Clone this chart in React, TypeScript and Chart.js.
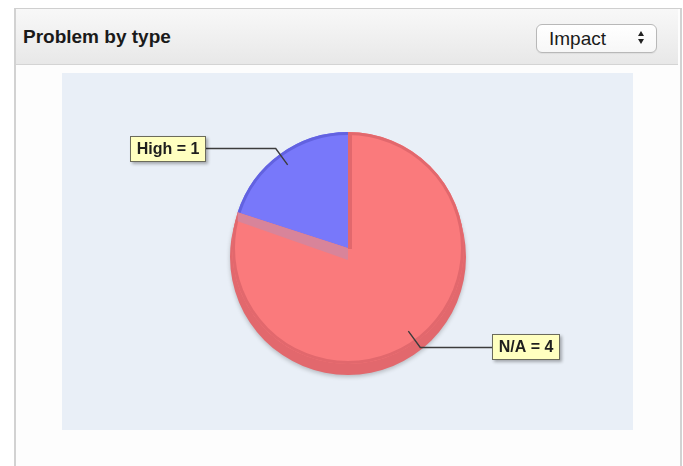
import React, { useEffect, useRef } from 'react';
import { Chart, registerables } from 'chart.js';

Chart.register(...registerables);

const title = 'Problem by type';
const selectLabel = 'Impact';
const labels = ['N/A', 'High'];
const values = [4, 1];
const faceColors = ['#fa7a7c', '#7878fa'];
const rimColors = ['#e2686d', '#6262e0'];
const cutColor = '#d8849a';

const DEPTH = 9;

const pie3dPlugin = {
  id: 'pie3d',
  beforeDatasetsDraw(chart: any) {
    const meta = chart.getDatasetMeta(0);
    const ctx = chart.ctx;
    meta.data.forEach((arc: any, i: number) => {
      const { x, y, startAngle, endAngle, outerRadius } = arc.getProps(
        ['x', 'y', 'startAngle', 'endAngle', 'outerRadius'],
        true
      );
      ctx.save();
      ctx.shadowColor = 'rgba(0,0,0,0.22)';
      ctx.shadowBlur = 4;
      ctx.shadowOffsetY = 2;
      ctx.beginPath();
      ctx.moveTo(x, y + DEPTH);
      ctx.arc(x, y + DEPTH, outerRadius + 2, startAngle, endAngle);
      ctx.closePath();
      ctx.fillStyle = rimColors[i];
      ctx.fill();
      ctx.restore();
    });
  },
  afterDatasetsDraw(chart: any) {
    const meta = chart.getDatasetMeta(0);
    const ctx = chart.ctx;
    const arcs = meta.data.map((arc: any) =>
      arc.getProps(['x', 'y', 'startAngle', 'endAngle', 'outerRadius'], true)
    );
    arcs.forEach((a: any, i: number) => {
      ctx.save();
      ctx.beginPath();
      ctx.arc(a.x, a.y, a.outerRadius - 1.5, a.startAngle, a.endAngle);
      ctx.strokeStyle = rimColors[i];
      ctx.lineWidth = 3;
      ctx.stroke();
      ctx.restore();
    });
    const first = arcs[0];
    ctx.save();
    ctx.fillStyle = rimColors[0];
    ctx.fillRect(first.x, first.y - first.outerRadius + 1, 4, first.outerRadius);
    ctx.restore();
    const last = arcs[arcs.length - 1];
    const px = last.x + last.outerRadius * Math.cos(last.startAngle);
    const py = last.y + last.outerRadius * Math.sin(last.startAngle);
    ctx.save();
    ctx.beginPath();
    ctx.moveTo(last.x, last.y);
    ctx.lineTo(px, py);
    ctx.lineTo(px, py + 9);
    ctx.lineTo(last.x, last.y + 12);
    ctx.closePath();
    ctx.fillStyle = cutColor;
    ctx.fill();
    ctx.restore();
  },
  afterDraw(chart: any) {
    const meta = chart.getDatasetMeta(0);
    const ctx = chart.ctx;
    const data = chart.data.datasets[0].data;
    meta.data.forEach((arc: any, i: number) => {
      const a = arc.getProps(['x', 'y', 'startAngle', 'endAngle', 'outerRadius'], true);
      const mid = (a.startAngle + a.endAngle) / 2;
      const c = Math.cos(mid);
      const s = Math.sin(mid);
      const ax = a.x + a.outerRadius * 0.885 * c;
      const ay = a.y + a.outerRadius * 0.885 * s;
      const ex = a.x + a.outerRadius * 1.06 * c;
      const ey = a.y + a.outerRadius * 1.06 * s;
      const right = c >= 0;
      const hx = right ? ex + 72 : ex - 70;
      const text = `${chart.data.labels[i]} = ${data[i]}`;
      ctx.save();
      ctx.strokeStyle = '#3c3c3c';
      ctx.lineWidth = 1.4;
      ctx.beginPath();
      ctx.moveTo(ax, ay);
      ctx.lineTo(ex, ey);
      ctx.lineTo(hx, ey);
      ctx.stroke();
      ctx.font = 'bold 16px "Liberation Sans", Arial, sans-serif';
      const tw = ctx.measureText(text).width;
      const bw = Math.round(tw + 13);
      const bh = 26;
      const bx = right ? Math.round(hx) : Math.round(hx - bw);
      const by = Math.round(ey - bh / 2);
      ctx.shadowColor = 'rgba(0,0,0,0.3)';
      ctx.shadowBlur = 3;
      ctx.shadowOffsetX = 2;
      ctx.shadowOffsetY = 2;
      ctx.fillStyle = '#ffffc0';
      ctx.fillRect(bx, by, bw, bh);
      ctx.shadowColor = 'transparent';
      ctx.strokeStyle = '#6b6b5c';
      ctx.lineWidth = 1;
      ctx.strokeRect(bx + 0.5, by + 0.5, bw - 1, bh - 1);
      ctx.fillStyle = '#1e1e1e';
      ctx.textBaseline = 'middle';
      ctx.textAlign = 'center';
      ctx.fillText(text, bx + bw / 2, by + bh / 2 + 1);
      ctx.restore();
    });
  },
};

function PieChart() {
  const ref = useRef<HTMLCanvasElement | null>(null);
  useEffect(() => {
    if (!ref.current) return;
    const chart = new Chart(ref.current, {
      type: 'pie',
      data: {
        labels,
        datasets: [
          {
            data: values,
            backgroundColor: faceColors,
            borderWidth: 0,
          },
        ],
      },
      options: {
        animation: false,
        responsive: false,
        radius: 116,
        layout: { padding: { left: 1, right: 0, top: 0, bottom: 7 } },
        plugins: {
          legend: { display: false },
          tooltip: { enabled: false },
        },
      } as any,
      plugins: [pie3dPlugin],
    });
    return () => chart.destroy();
  }, []);
  return (
    <canvas
      ref={ref}
      width={571}
      height={357}
      style={{
        position: 'absolute',
        left: 62,
        top: 73,
        width: 571,
        height: 357,
        background: '#e9eff7',
      }}
    />
  );
}

export default function App() {
  return (
    <div
      style={{
        position: 'absolute',
        left: 0,
        top: 0,
        width: 683,
        height: 466,
        overflow: 'hidden',
        background: '#ffffff',
        fontFamily: '"Liberation Sans", Arial, Helvetica, sans-serif',
      }}
    >
      <div
        style={{
          position: 'absolute',
          left: 14,
          top: 8,
          width: 664,
          height: 480,
          border: '1px solid #cfcfcf',
          borderLeft: '2px solid #d2d2d2',
          borderRight: '2px solid #d2d2d2',
          background: '#fdfdfd',
        }}
      />
      <div
        style={{
          position: 'absolute',
          left: 16,
          top: 9,
          width: 662,
          height: 55,
          background: 'linear-gradient(#f8f8f8, #e8e8e8)',
          borderBottom: '1px solid #d4d4d4',
        }}
      />
      <div
        style={{
          position: 'absolute',
          left: 23,
          top: 27,
          fontSize: 19,
          lineHeight: '19px',
          fontWeight: 'bold',
          color: '#1a1a1a',
          whiteSpace: 'nowrap',
        }}
      >
        {title}
      </div>
      <div
        style={{
          position: 'absolute',
          left: 536,
          top: 24,
          width: 119,
          height: 27,
          border: '1px solid #b8b8b8',
          borderRadius: 6,
          background: 'linear-gradient(#ffffff, #f7f7f7)',
          boxShadow: '0 1px 1px rgba(0,0,0,0.06)',
        }}
      />
      <div
        style={{
          position: 'absolute',
          left: 549,
          top: 29,
          fontSize: 19,
          lineHeight: '19px',
          color: '#1a1a1a',
          whiteSpace: 'nowrap',
        }}
      >
        {selectLabel}
      </div>
      <div
        style={{
          position: 'absolute',
          left: 638,
          top: 31,
          width: 0,
          height: 0,
          borderLeft: '3.5px solid transparent',
          borderRight: '3.5px solid transparent',
          borderBottom: '5px solid #222',
        }}
      />
      <div
        style={{
          position: 'absolute',
          left: 638,
          top: 39,
          width: 0,
          height: 0,
          borderLeft: '3.5px solid transparent',
          borderRight: '3.5px solid transparent',
          borderTop: '5px solid #222',
        }}
      />
      <PieChart />
    </div>
  );
}
